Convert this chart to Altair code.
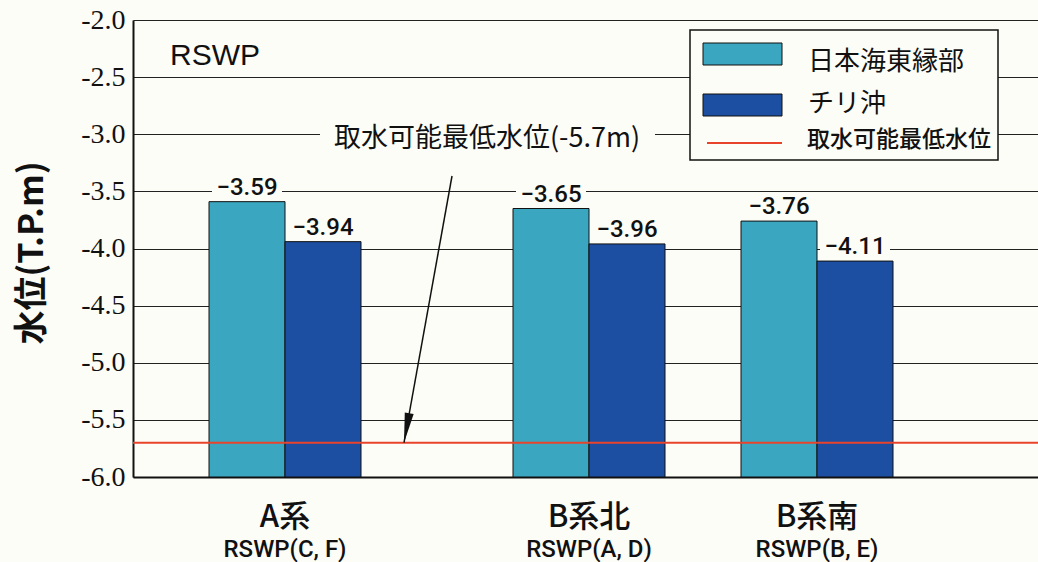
import altair as alt
import pandas as pd

# ---- values -------------------------------------------------------------
CATEGORIES = ["A系", "B系北", "B系南"]
SUBLABELS = ["RSWP(C, F)", "RSWP(A, D)", "RSWP(B, E)"]
SERIES = ["日本海東縁部", "チリ沖"]
EAST_MARGIN = [-3.59, -3.65, -3.76]   # 日本海東縁部
CHILE = [-3.94, -3.96, -4.11]         # チリ沖
MIN_INTAKE = -5.7
MIN_INTAKE_NAME = "取水可能最低水位"
MIN_INTAKE_NOTE = "取水可能最低水位(-5.7m)"
PANEL_TITLE = "RSWP"
Y_TITLE = "水位(T.P.m)"
Y_TICKS = [-2.0, -2.5, -3.0, -3.5, -4.0, -4.5, -5.0, -5.5, -6.0]

# ---- styling ------------------------------------------------------------
BG = "#fdfdf7"
INK = "#111111"
COLORS = ["#3aa6c0", "#1c4ea2"]
RED = "#e8432b"
JP = "Noto Sans CJK JP"
NUM = "Roboto, sans-serif"
SERIF = "Times New Roman, Liberation Serif, DejaVu Serif, serif"

W, H = 905, 457
Y_MIN, Y_MAX = -6.0, -2.0

# band slots: empty slots separate the station groups
GAPS_BEFORE = [1, 2, 1]
TRAILING = 2
slots, k = [], 0
for cat, gap in zip(CATEGORIES, GAPS_BEFORE):
    for _ in range(gap):
        slots.append(f"_gap{k}")
        k += 1
    for s in SERIES:
        slots.append(f"{cat}|{s}")
for _ in range(TRAILING):
    slots.append(f"_gap{k}")
    k += 1

rows = []
for cat, a, b in zip(CATEGORIES, EAST_MARGIN, CHILE):
    for s, v in zip(SERIES, (a, b)):
        rows.append({"group": cat, "series": s, "value": v, "slot": f"{cat}|{s}"})
bars_df = pd.DataFrame(rows)

cats_df = pd.DataFrame({
    "group": CATEGORIES,
    "sub": SUBLABELS,
    "slot": [f"{c}|{SERIES[0]}" for c in CATEGORIES],
})
level_df = pd.DataFrame({"level": [MIN_INTAKE]})

x_scale = alt.Scale(domain=slots, range=[0, 912], paddingInner=0, paddingOuter=0)
y_scale = alt.Scale(domain=[Y_MIN, Y_MAX], zero=False, nice=False)

x_axis = alt.Axis(labels=False, ticks=False, title=None, grid=False,
                  domainColor=INK, domainWidth=2)
y_axis = alt.Axis(
    values=Y_TICKS,
    labelExpr="(datum.value < 0 ? '-' : '') + format(abs(datum.value), '.1f')",
    labelFont=SERIF, labelFontSize=28, labelColor=INK,
    labelPadding=8, ticks=False,
    grid=True, gridColor="#222222", gridWidth=1,
    domainColor=INK, domainWidth=2,
    title=Y_TITLE, titleFont=JP, titleFontSize=34, titleFontWeight="bold",
    titleColor=INK, titleAngle=-90, titleX=-101, titleY=H / 2 + 4,
    titleAlign="center", titleBaseline="middle",
)

X = alt.X("slot:N", scale=x_scale, axis=x_axis)
Y = alt.Y("value:Q", scale=y_scale, axis=y_axis)

# background patches behind the value labels (break the gridlines)
label_knock = alt.Chart(bars_df).mark_point(
    shape="M-1,-0.38L1,-0.38L1,0.38L-1,0.38Z", filled=True, fill=BG,
    opacity=1, strokeWidth=0, size=70 * 70, yOffset=-15,
).encode(x=X, y=Y)

bars = alt.Chart(bars_df).mark_bar(stroke=INK, strokeWidth=1).encode(
    x=X, y=Y, y2=alt.datum(Y_MIN),
    color=alt.Color("series:N", scale=alt.Scale(domain=SERIES, range=COLORS),
                    legend=None),
)

min_line = alt.Chart(level_df).mark_rule(color=RED, strokeWidth=2).encode(
    y=alt.Y("level:Q", scale=y_scale, axis=y_axis)
)

value_labels = alt.Chart(bars_df).mark_text(
    font=NUM, fontSize=24, fontWeight=500, baseline="alphabetic", dy=-7,
    color=INK
).encode(x=X, y=Y, text=alt.Text("value:Q", format=".2f"))

X_MID = alt.X("slot:N", scale=x_scale, axis=x_axis, bandPosition=1)
cat_labels = alt.Chart(cats_df).mark_text(
    font=JP, fontSize=31, fontWeight=500, baseline="alphabetic", color=INK
).encode(x=X_MID, y=alt.value(H + 50), text="group:N")
sub_labels = alt.Chart(cats_df).mark_text(
    font=NUM, fontSize=24, fontWeight=500, baseline="alphabetic", color=INK
).encode(x=X_MID, y=alt.value(H + 80), text="sub:N")

# panel name
panel = alt.Chart(pd.DataFrame({"t": [PANEL_TITLE]})).mark_text(
    font="Liberation Sans, Arial, sans-serif", fontSize=30, align="left",
    baseline="middle", color=INK
).encode(x=alt.value(37), y=alt.value(36), text="t:N")

# annotation for the minimum intake level
note_df = pd.DataFrame({"t": [MIN_INTAKE_NOTE]})
note_knock = alt.Chart(note_df).mark_rect(fill=BG).encode(
    x=alt.value(187), x2=alt.value(522), y=alt.value(104), y2=alt.value(134)
)
note_text = alt.Chart(note_df).mark_text(
    font=JP, fontSize=27, baseline="middle", color=INK
).encode(x=alt.value(354), y=alt.value(119), text="t:N")
arrow_shaft = alt.Chart(level_df).mark_rule(color=INK, strokeWidth=1.5).encode(
    x=alt.value(271), x2=alt.value(319),
    y=alt.Y("level:Q", scale=y_scale, axis=y_axis), y2=alt.value(156),
)
arrow_head = alt.Chart(level_df).mark_point(
    shape="M0,0L-0.3,-2L0.3,-2Z", filled=True, fill=INK, opacity=1,
    strokeWidth=0, size=900, angle=10,
).encode(x=alt.value(271), y=alt.Y("level:Q", scale=y_scale, axis=y_axis))

# legend box
LEGEND_TEXT_Y = [41.5, 83.5]
legend_layers = [
    alt.Chart(note_df).mark_rect(fill=BG, stroke=INK, strokeWidth=1.5).encode(
        x=alt.value(557), x2=alt.value(865), y=alt.value(10), y2=alt.value(140)
    )
]
for i, (name, col) in enumerate(zip(SERIES, COLORS)):
    top = 23 + i * 51
    d = pd.DataFrame({"t": [name]})
    legend_layers.append(
        alt.Chart(d).mark_rect(fill=col, stroke=INK, strokeWidth=1).encode(
            x=alt.value(570), x2=alt.value(649),
            y=alt.value(top), y2=alt.value(top + 22))
    )
    legend_layers.append(
        alt.Chart(d).mark_text(font=JP, fontSize=26, align="left",
                               baseline="middle", color=INK).encode(
            x=alt.value(675), y=alt.value(LEGEND_TEXT_Y[i]), text="t:N")
    )
line_df = pd.DataFrame({"t": [MIN_INTAKE_NAME]})
legend_layers.append(
    alt.Chart(line_df).mark_rule(color=RED, strokeWidth=2).encode(
        x=alt.value(574), x2=alt.value(649), y=alt.value(123), y2=alt.value(123))
)
legend_layers.append(
    alt.Chart(line_df).mark_text(font=JP, fontSize=23, fontWeight=500,
                                 align="left", baseline="middle",
                                 color=INK).encode(
        x=alt.value(674), y=alt.value(120), text="t:N")
)

chart = alt.layer(
    label_knock, bars, min_line, value_labels, cat_labels, sub_labels, panel,
    note_knock, note_text, arrow_shaft, arrow_head, *legend_layers,
).properties(
    width=W, height=H,
    autosize=alt.AutoSizeParams(type="none"),
    padding={"left": 133, "top": 20, "right": 0, "bottom": 85},
    background=BG,
).configure_view(stroke=None)

chart.save("out.html", embed_options={"renderer": "svg", "actions": False})
